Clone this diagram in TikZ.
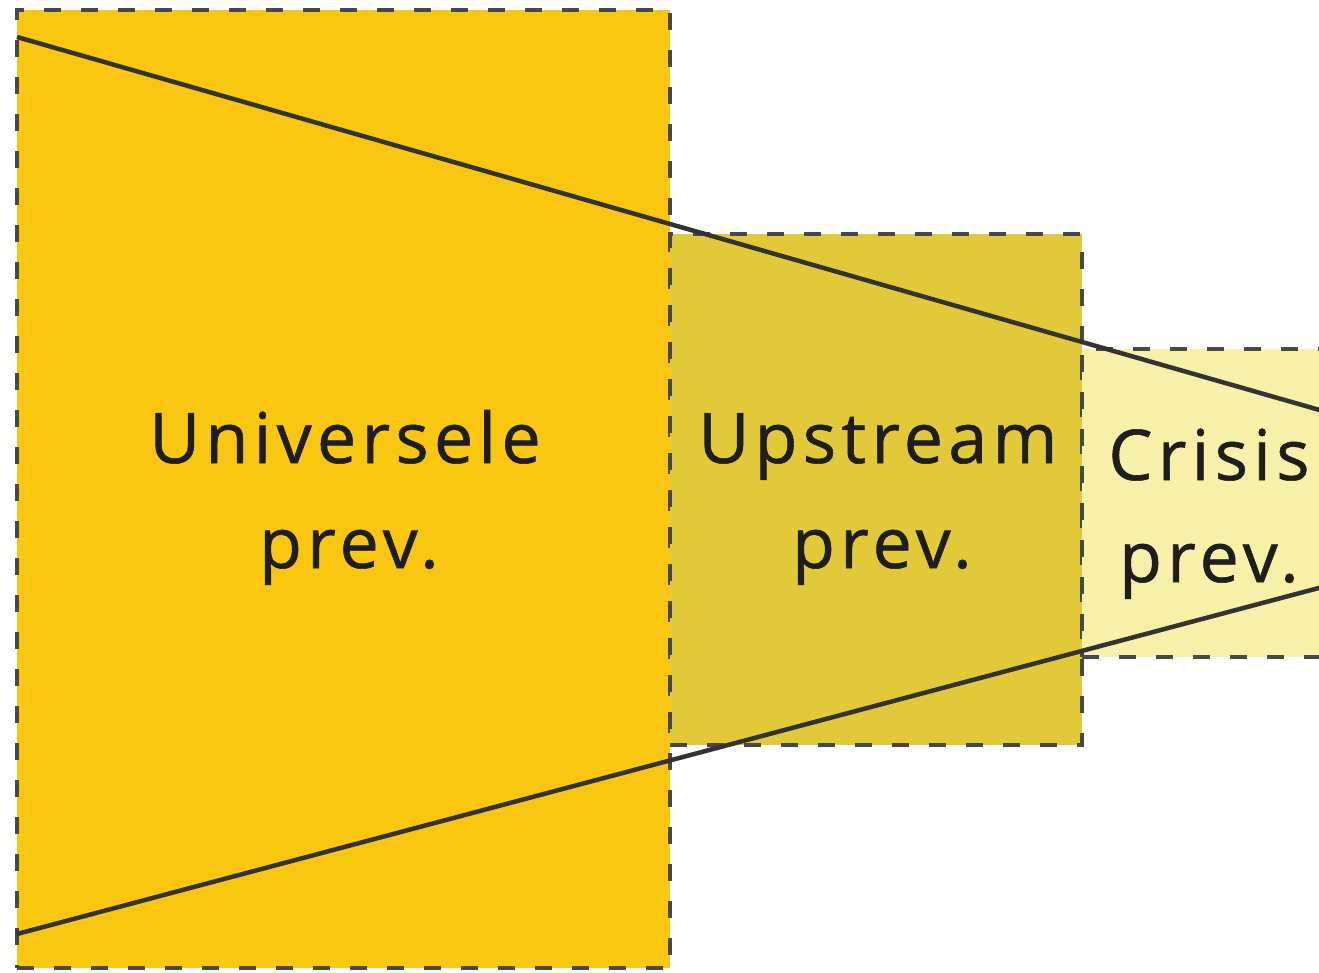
\documentclass[tikz,border=0pt]{standalone}
\usepackage{fontspec}
\setmainfont[LetterSpace=7.5,FakeBold=0.8]{Open Sans}
\definecolor{fillA}{HTML}{F9C611}
\definecolor{fillB}{HTML}{E2C93A}
\definecolor{fillC}{HTML}{F7F0A8}
\definecolor{borderc}{HTML}{484848}
\definecolor{linec}{HTML}{333333}
\definecolor{textc}{HTML}{1E1E1E}
\tikzset{
  stagebox/.style={draw=borderc, line width=4pt, dash pattern=on 17pt off 20pt, inner sep=0pt, outer sep=0pt},
  funnel/.style={draw=linec, line width=4.5pt},
  lbl/.style={anchor=base, inner sep=0pt, text=textc, font=\fontsize{70}{84}\selectfont}
}
\begin{document}
\begin{tikzpicture}[x=1pt,y=-1pt]
\useasboundingbox (0,0) rectangle (1319,973);
\clip (0,0) rectangle (1319,973);
\fill[white] (0,0) rectangle (1319,973);
\node[stagebox, fill=fillA, minimum width=653pt, minimum height=958pt] (r1) at (343.5,489) {};
\node[stagebox, fill=fillB, minimum width=412pt, minimum height=511pt] (r2) at (876,489.5) {};
\node[stagebox, fill=fillC, minimum width=250pt, minimum height=308pt] (r3) at (1207,503) {};
\node[lbl] (t1a) at (345,463) {Universele};
\node[lbl] (t1b) at (349,568) {prev.};
\node[lbl] (t2a) at (878,463) {Upstream};
\node[lbl] (t2b) at (882,568) {prev.};
\node[lbl] (t3a) at (1209,480) {Crisis};
\node[lbl] (t3b) at (1209,582) {prev.};
\coordinate (topL) at (17,37);
\coordinate (topR) at (1330,413);
\coordinate (botL) at (17,934);
\coordinate (botR) at (1330,585);
\draw[funnel] (topL) -- (topR);
\draw[funnel] (botL) -- (botR);
\end{tikzpicture}
\end{document}
